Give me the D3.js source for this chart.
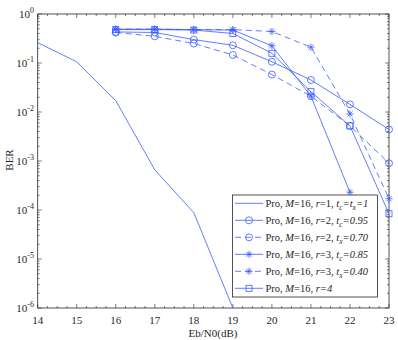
<!DOCTYPE html>
<html>
<head>
<meta charset="utf-8">
<script src="https://cdn.jsdelivr.net/npm/d3@7"></script>
<style>
  body { margin: 0; background: #fff; }
</style>
</head>
<body>
<svg id="chart" width="398" height="340" font-family="'Liberation Serif', 'DejaVu Serif', serif"></svg>
<script>
// Eb/N0 values
var snrAll = [14, 15, 16, 17, 18, 19, 20, 21, 22, 23];
var snrCoded = [16, 17, 18, 19, 20, 21, 22, 23];

// BER values
var berR1 = [0.26, 0.106, 0.017, 6.6e-4, 8.8e-5, 1.0e-6];
var berR2c = [0.43, 0.42, 0.30, 0.23, 0.106, 0.045, 0.0143, 0.0044];
var berR2x = [0.42, 0.35, 0.25, 0.146, 0.058, 0.021, 0.0052, 9.0e-4];
var berR3c = [0.49, 0.49, 0.48, 0.47, 0.225, 0.021, 2.3e-4];
var berR3x = [0.49, 0.49, 0.48, 0.48, 0.44, 0.21, 0.0091, 1.7e-4];
var berR4 = [0.48, 0.48, 0.47, 0.40, 0.158, 0.026, 0.0052, 8.4e-5];

var yTicks = [0, -1, -2, -3, -4, -5, -6];
var xTicks = [14, 15, 16, 17, 18, 19, 20, 21, 22, 23];

var series = [
  {x: snrAll, y: berR1, dash: null, marker: "none",
   label: [["Pro, ", ""], ["M", "i"], ["=16, ", ""], ["r", "i"], ["=1, ", ""], ["t", "i"], ["c", "s"], ["=", "i"], ["t", "i"], ["x", "s"], ["=1", "i"]]},
  {x: snrCoded, y: berR2c, dash: null, marker: "circle",
   label: [["Pro, ", ""], ["M", "i"], ["=16, ", ""], ["r", "i"], ["=2, ", ""], ["t", "i"], ["c", "s"], ["=0.95", "i"]]},
  {x: snrCoded, y: berR2x, dash: "6,4", marker: "circle",
   label: [["Pro, ", ""], ["M", "i"], ["=16, ", ""], ["r", "i"], ["=2, ", ""], ["t", "i"], ["x", "s"], ["=0.70", "i"]]},
  {x: snrCoded, y: berR3c, dash: null, marker: "star",
   label: [["Pro, ", ""], ["M", "i"], ["=16, ", ""], ["r", "i"], ["=3, ", ""], ["t", "i"], ["c", "s"], ["=0.85", "i"]]},
  {x: snrCoded, y: berR3x, dash: "6,4", marker: "star",
   label: [["Pro, ", ""], ["M", "i"], ["=16, ", ""], ["r", "i"], ["=3, ", ""], ["t", "i"], ["x", "s"], ["=0.40", "i"]]},
  {x: snrCoded, y: berR4, dash: null, marker: "square",
   label: [["Pro, ", ""], ["M", "i"], ["=16, ", ""], ["r", "i"], ["=4", "i"]]}
];

var color = "#3a5cff";
var axisColor = "#262626";
var svg = d3.select("#chart");
var pLeft = 37.7, pRight = 389, pTop = 14, pBottom = 308;

var x = d3.scaleLinear().domain([14, 23]).range([pLeft, pRight]);
var y = d3.scaleLog().domain([1e-6, 1]).range([pBottom, pTop]);

svg.append("defs").append("clipPath").attr("id", "plotclip")
  .append("rect").attr("x", pLeft).attr("y", pTop)
  .attr("width", pRight - pLeft).attr("height", pBottom - pTop);

// ticks (inside, all four sides)
var tickG = svg.append("g").attr("stroke", axisColor).attr("stroke-width", 0.6);
for (var v = 14; v <= 23.001; v += 0.25) {
  var major = Math.abs(v - Math.round(v)) < 1e-6;
  var len = major ? 4 : 2;
  tickG.append("line").attr("x1", x(v)).attr("x2", x(v)).attr("y1", pBottom).attr("y2", pBottom - len);
  tickG.append("line").attr("x1", x(v)).attr("x2", x(v)).attr("y1", pTop).attr("y2", pTop + len);
}
for (var e = -6; e <= 0; e++) {
  for (var m = 1; m <= 9; m++) {
    if (e === 0 && m > 1) break;
    var val = m * Math.pow(10, e);
    var l2 = m === 1 ? 4 : 2;
    tickG.append("line").attr("x1", pLeft).attr("x2", pLeft + l2).attr("y1", y(val)).attr("y2", y(val));
    tickG.append("line").attr("x1", pRight).attr("x2", pRight - l2).attr("y1", y(val)).attr("y2", y(val));
  }
}

svg.append("rect").attr("x", pLeft).attr("y", pTop)
  .attr("width", pRight - pLeft).attr("height", pBottom - pTop)
  .attr("fill", "none").attr("stroke", axisColor).attr("stroke-width", 0.8);

// tick labels
svg.append("g").selectAll("text").data(xTicks).enter().append("text")
  .attr("x", function(d) { return x(d); })
  .attr("y", 324)
  .attr("text-anchor", "middle")
  .attr("font-size", 11)
  .attr("fill", axisColor)
  .text(function(d) { return d; });

var yl = svg.append("g").selectAll("text").data(yTicks).enter().append("text")
  .attr("x", 34)
  .attr("y", function(d) { return y(Math.pow(10, d)) + 4; })
  .attr("text-anchor", "end")
  .attr("font-size", 11)
  .attr("fill", axisColor);
yl.append("tspan").text("10");
yl.append("tspan").attr("dy", -5).attr("font-size", 8)
  .text(function(d) { return d === 0 ? "0" : "-" + (-d); });

svg.append("text").attr("x", 213).attr("y", 337).attr("text-anchor", "middle")
  .attr("font-size", 11).attr("fill", axisColor).text("Eb/N0(dB)");
svg.append("text").attr("transform", "translate(13,160) rotate(-90)")
  .attr("text-anchor", "middle").attr("font-size", 11).attr("fill", axisColor).text("BER");

function drawMarker(g, type, cx, cy) {
  if (type === "circle") {
    g.append("circle").attr("cx", cx).attr("cy", cy).attr("r", 3.5)
      .attr("fill", "none").attr("stroke", color).attr("stroke-width", 0.8);
  } else if (type === "square") {
    g.append("rect").attr("x", cx - 3).attr("y", cy - 3).attr("width", 6).attr("height", 6)
      .attr("fill", "none").attr("stroke", color).attr("stroke-width", 0.8);
  } else if (type === "star") {
    var r = 3.6, d = r * 0.72;
    var segs = [[-r, 0, r, 0], [0, -r, 0, r], [-d, -d, d, d], [-d, d, d, -d]];
    segs.forEach(function(s) {
      g.append("line").attr("x1", cx + s[0]).attr("y1", cy + s[1])
        .attr("x2", cx + s[2]).attr("y2", cy + s[3])
        .attr("stroke", color).attr("stroke-width", 0.8);
    });
  }
}

var plot = svg.append("g").attr("clip-path", "url(#plotclip)");
var line = d3.line().x(function(d) { return x(d[0]); }).y(function(d) { return y(d[1]); });

series.forEach(function(s) {
  var pts = s.y.map(function(v, i) { return [s.x[i], v]; });
  plot.append("path").attr("d", line(pts))
    .attr("fill", "none").attr("stroke", color).attr("stroke-width", 0.8)
    .attr("stroke-dasharray", s.dash);
});
var markG = svg.append("g");
series.forEach(function(s) {
  s.y.forEach(function(v, i) {
    if (v >= 1e-6) drawMarker(markG, s.marker, x(s.x[i]), y(v));
  });
});

// legend
var lg = svg.append("g");
lg.append("rect").attr("x", 232.5).attr("y", 195).attr("width", 145).attr("height", 102)
  .attr("fill", "#fff").attr("stroke", axisColor).attr("stroke-width", 0.8);
series.forEach(function(s, i) {
  var ry = 203.3 + i * 17;
  lg.append("line").attr("x1", 235).attr("x2", 263).attr("y1", ry).attr("y2", ry)
    .attr("stroke", color).attr("stroke-width", 0.8).attr("stroke-dasharray", s.dash);
  drawMarker(lg, s.marker, 249, ry);
  var t = lg.append("text").attr("x", 265.5).attr("y", ry + 4)
    .attr("font-size", 10.5).attr("fill", axisColor);
  var wasSub = false;
  s.label.forEach(function(p) {
    var ts = t.append("tspan").text(p[0]);
    if (p[1] === "i" || p[1] === "s") ts.attr("font-style", "italic");
    if (p[1] === "s") {
      ts.attr("font-size", 7.5).attr("dy", 3);
      wasSub = true;
    } else if (wasSub) {
      ts.attr("dy", -3);
      wasSub = false;
    }
  });
});
</script>
</body>
</html>
